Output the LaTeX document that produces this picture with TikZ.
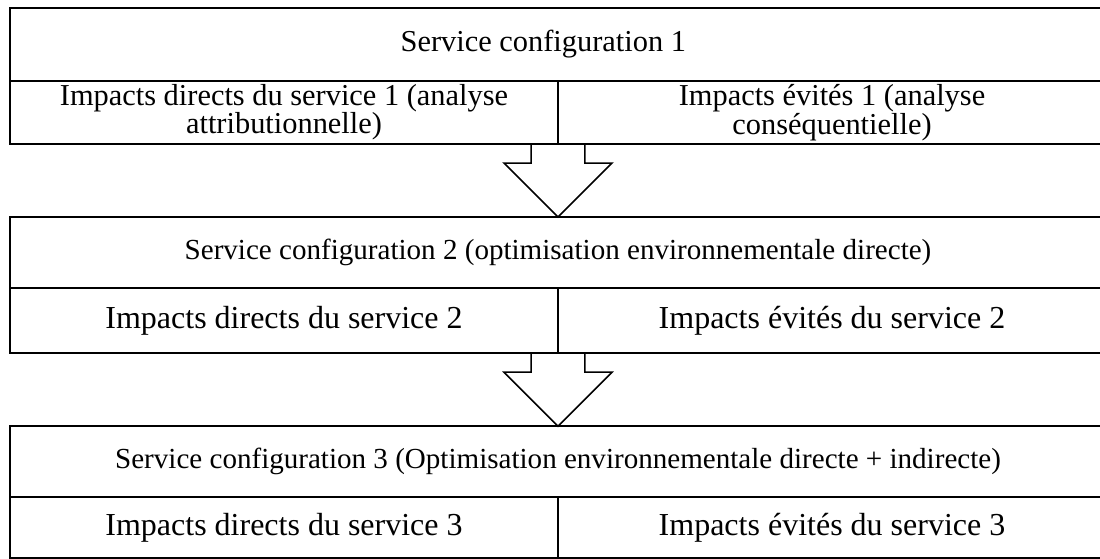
\documentclass[tikz,border=0pt]{standalone}
\usepackage{fontspec}
\setmainfont{Liberation Serif}
\usetikzlibrary{positioning, calc}

\begin{document}
\begin{tikzpicture}[line join=miter]
        % Style definitions
        \tikzstyle{header} = [draw, line width=0.75pt, rectangle, minimum width=411pt, inner sep=0pt, outer sep=0pt, align=center, font=\fontsize{10.9}{13}\selectfont]
        \tikzstyle{cell} = [draw, line width=0.75pt, rectangle, minimum width=205.5pt, inner sep=0pt, outer sep=0pt, align=center, font=\fontsize{12}{14}\selectfont]
        \tikzstyle{flowarrow} = [draw, line width=0.6pt]

        \useasboundingbox (0,0) rectangle (412.5pt,-209.6pt);

        % Configuration 1
        \node [header, minimum height=27.4pt, anchor=north west, font=\fontsize{11.4}{13}\selectfont] (conf1) at (3.75pt,-3pt) {Service configuration 1\hspace*{11pt}};
        \node [cell, minimum height=23.6pt, anchor=north west, font=\fontsize{11.4}{10.6}\selectfont] (direct1) at (conf1.south west) {Impacts directs du service 1 (analyse\\ attributionnelle)};
        \node [cell, minimum height=23.6pt, anchor=north east, font=\fontsize{11.4}{10.6}\selectfont] (avoided1) at (conf1.south east) {Impacts évités 1 (analyse\\ conséquentielle)};

        % Configuration 2
        \node [header, minimum height=26.6pt, below=27.4pt of direct1.south east] (conf2) {Service configuration 2 (optimisation environnementale directe)};
        \node [cell, minimum height=24.4pt, anchor=north west] (direct2) at (conf2.south west) {Impacts directs du service 2};
        \node [cell, minimum height=24.4pt, anchor=north east] (avoided2) at (conf2.south east) {Impacts évités du service 2};

        % Configuration 3
        \node [header, minimum height=26.6pt, below=27.4pt of direct2.south east] (conf3) {Service configuration 3 (Optimisation environnementale directe + indirecte)};
        \node [cell, minimum height=22.9pt, anchor=north west] (direct3) at (conf3.south west) {Impacts directs du service 3};
        \node [cell, minimum height=22.9pt, anchor=north east] (avoided3) at (conf3.south east) {Impacts évités du service 3};

        % Block arrows
        \draw [flowarrow] ($(direct1.south east)+(-10.1pt,0)$) |- ($(conf2.north)+(-20.25pt,20.25pt)$) -- (conf2.north) -- ($(conf2.north)+(20.25pt,20.25pt)$) -| ($(direct1.south east)+(10.1pt,0)$);
        \draw [flowarrow] ($(direct2.south east)+(-10.1pt,0)$) |- ($(conf3.north)+(-20.25pt,20.25pt)$) -- (conf3.north) -- ($(conf3.north)+(20.25pt,20.25pt)$) -| ($(direct2.south east)+(10.1pt,0)$);
    \end{tikzpicture}
\end{document}
